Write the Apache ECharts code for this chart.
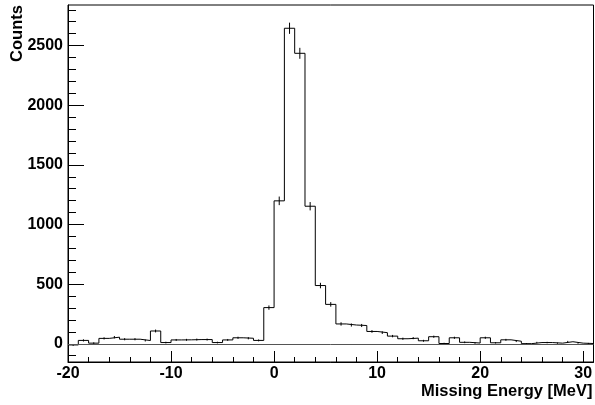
<!DOCTYPE html>
<html>
<head>
<meta charset="utf-8">
<script src="https://cdn.jsdelivr.net/npm/echarts@6/dist/echarts.min.js"></script>
<style>
  html, body { margin: 0; padding: 0; background: #fff; }
  #main { width: 595px; height: 405px; }
</style>
</head>
<body>
<div id="main"></div>
<script>
// histogram: 1 MeV bins starting at -20
const binLow = -20;
const binWidth = 1;
const counts = [
  -10, 28, 5, 45, 55, 38, 38, 27, 107, 10,
  32, 33, 35, 35, 10, 32, 50, 46, 28, 303,
  1198, 2645, 2435, 1153, 488, 330, 166, 157, 153, 103,
  93, 64, 42, 47, 25, 59, 2, 50, 12, 6,
  50, 8, 33, 21, 1, 10, 10, 5, 17, 5,
  2
];
const errors = [
  8, 9, 7, 9, 10, 9, 9, 8, 12, 7,
  8, 8, 8, 8, 7, 8, 9, 9, 8, 18,
  36, 47, 46, 35, 23, 19, 14, 13, 13, 11,
  11, 10, 9, 9, 8, 9, 6, 9, 7, 6,
  9, 6, 8, 7, 5, 6, 6, 5, 7, 5,
  5
];
const xMajorTicks = [-20, -10, 0, 10, 20, 30];
const xMinorTicks = [-18, -16, -14, -12, -8, -6, -4, -2, 2, 4, 6, 8, 12, 14, 16, 18, 22, 24, 26, 28];
const yMajorTicks = [0, 500, 1000, 1500, 2000, 2500];
const yMinorTicks = [-100, 100, 200, 300, 400, 600, 700, 800, 900, 1100, 1200, 1300, 1400,
  1600, 1700, 1800, 1900, 2100, 2200, 2300, 2400, 2600, 2700, 2800];

const xMin = -20, xMax = 31;
const yMin = -153, yMax = 2840;

// step outline: one point per bin low edge plus the closing edge
const stepData = counts.map((c, i) => [binLow + i * binWidth, c]);
stepData.push([binLow + counts.length * binWidth, counts[counts.length - 1]]);
const errData = counts.map((c, i) => [binLow + (i + 0.5) * binWidth, c, errors[i]]);

const font = 'Liberation Sans, Arial, Helvetica, sans-serif';
const labelStyle = { color: '#000', fontFamily: font, fontWeight: 'bold', fontSize: 16 };
const plain = v => String(v);

const chart = echarts.init(document.getElementById('main'));
chart.setOption({
  animation: false,
  backgroundColor: '#fff',
  grid: { left: 68, right: 1.5, top: 5, bottom: 43, show: true, borderColor: '#000', borderWidth: 1,
    containLabel: false, outerBoundsMode: 'none' },
  xAxis: [{
    type: 'value', min: xMin, max: xMax,
    name: 'Missing Energy [MeV]', nameLocation: 'middle', nameGap: 21, nameMoveOverlap: false,
    nameTextStyle: { color: '#000', fontFamily: font, fontWeight: 'bold', fontSize: 16.5,
      padding: [0, 0, 0, 352] },
    axisLine: { show: true, onZero: false, lineStyle: { color: '#000' } },
    axisTick: { show: true, inside: true, length: 11, customValues: xMajorTicks, lineStyle: { color: '#000' } },
    axisLabel: Object.assign({ margin: 4, customValues: xMajorTicks, formatter: plain }, labelStyle),
    splitLine: { show: false }
  }, {
    type: 'value', min: xMin, max: xMax, position: 'bottom',
    axisLine: { show: false, onZero: false },
    axisTick: { show: true, inside: true, length: 5, customValues: xMinorTicks, lineStyle: { color: '#000' } },
    axisLabel: { show: false },
    splitLine: { show: false }
  }],
  yAxis: [{
    type: 'value', min: yMin, max: yMax,
    name: 'Counts', nameLocation: 'middle', nameGap: 42, nameMoveOverlap: false,
    nameTextStyle: { color: '#000', fontFamily: font, fontWeight: 'bold', fontSize: 16.5,
      padding: [0, 0, 0, 300] },
    axisLine: { show: true, onZero: false, lineStyle: { color: '#000' } },
    axisTick: { show: true, inside: true, length: 16, customValues: yMajorTicks, lineStyle: { color: '#000' } },
    axisLabel: Object.assign({ margin: 5, customValues: yMajorTicks, formatter: plain }, labelStyle),
    splitLine: { show: false }
  }, {
    type: 'value', min: yMin, max: yMax, position: 'left',
    axisLine: { show: false, onZero: false },
    axisTick: { show: true, inside: true, length: 8, customValues: yMinorTicks, lineStyle: { color: '#000' } },
    axisLabel: { show: false },
    splitLine: { show: false }
  }],
  series: [{
    type: 'line',
    data: stepData,
    step: 'end',
    showSymbol: false,
    symbol: 'none',
    lineStyle: { color: '#000', width: 1 },
    markLine: {
      silent: true, symbol: ['none', 'none'], label: { show: false },
      lineStyle: { color: '#555', type: 'solid', width: 1 },
      data: [{ yAxis: 0 }]
    }
  }, {
    type: 'custom',
    data: errData,
    renderItem: function (params, api) {
      const x = api.value(0), v = api.value(1), e = api.value(2);
      const p1 = api.coord([x, v - e]);
      const p2 = api.coord([x, v + e]);
      return {
        type: 'line',
        shape: { x1: p1[0], y1: p1[1], x2: p2[0], y2: p2[1] },
        style: { stroke: '#000', lineWidth: 1 }
      };
    }
  }]
});
</script>
</body>
</html>
